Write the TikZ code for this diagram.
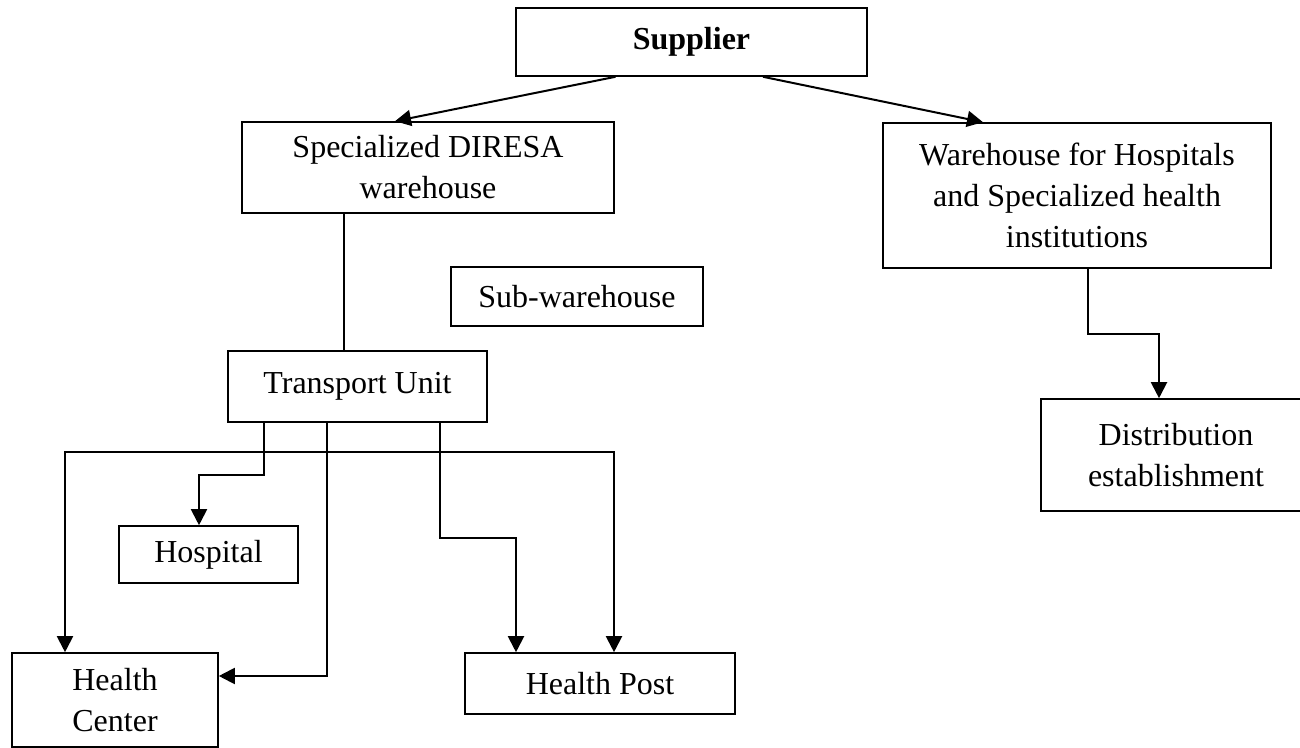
\documentclass[tikz,border=0pt]{standalone}
\usepackage{fontspec}
\setmainfont{Liberation Serif}
\usetikzlibrary{arrows.meta}

\tikzset{
    box/.style={draw, line width=0.8pt, align=center, inner sep=0pt,
        font=\fontsize{16}{20.5}\selectfont},
    link/.style={line width=1pt, -{Triangle[length=8pt, width=8pt]}}
}

\begin{document}
\begin{tikzpicture}[x=0.5pt, y=-0.5pt, >={Triangle[length=8pt, width=8pt]}]
    % 1. Khung trang
    \useasboundingbox (0,0) rectangle (1300,748);

    % 2. Cac hop
    \node[box, minimum width=175.5pt, minimum height=34pt] (sup) at (691.5,42) {\textbf{Supplier}};
    \node[box, minimum width=186pt, minimum height=45.5pt] (dir) at (428,167.5) {Specialized DIRESA\\warehouse};
    \node[box, minimum width=194pt, minimum height=72.5pt] (wh) at (1077,195.5) {Warehouse for Hospitals\\and Specialized health\\institutions};
    \node[box, minimum width=126pt, minimum height=29.5pt] (sub) at (577,296.5) {Sub-warehouse};
    \node[box, minimum width=129.5pt, minimum height=35.5pt] (tu) at (357.5,386.5) {Transport Unit};
    \node[box, minimum width=135pt, minimum height=56pt] (dist) at (1176,455) {Distribution\\establishment};
    \node[box, minimum width=89.5pt, minimum height=28.5pt] (hos) at (208.5,554.5) {Hospital};
    \node[box, minimum width=103pt, minimum height=47pt] (hc) at (115,700) {Health\\Center};
    \node[box, minimum width=135pt, minimum height=30.5pt] (hp) at (600,683.5) {Health Post};

    % 3. Mui ten tu nha cung cap
    \draw[link] ([xshift=-38pt]sup.south) -- ([xshift=-16.5pt]dir.north);
    \draw[link] ([xshift=35.75pt]sup.south) -- ([xshift=-47pt]wh.north);

    % 4. Duong noi kho DIRESA - don vi van chuyen
    \draw[line width=0.7pt] ([xshift=-42pt]dir.south) -- ([xshift=-42pt]dir.south |- tu.north);

    % 5. Kho benh vien -> co so phan phoi
    \draw[link] ([xshift=5.5pt]wh.south) -- ++(0,-32.5pt) -| ([xshift=-8.5pt]dist.north);

    % 6. Cac nhanh tu don vi van chuyen
    \draw[link] ([xshift=-46.75pt]tu.south) -- ++(0,-26pt) -| ([xshift=-4.75pt]hos.north);
    \draw[link] ([xshift=-15.25pt]tu.south) |- ([yshift=12pt]hc.east);
    \draw[link] ([xshift=41.25pt]tu.south) -- ++(0,-57.5pt) -| ([xshift=-42pt]hp.north);
    \draw[line width=1pt, <->] ([xshift=-25pt]hc.north) |- ([yshift=-14.5pt]tu.south) -| ([xshift=7pt]hp.north);
\end{tikzpicture}
\end{document}
